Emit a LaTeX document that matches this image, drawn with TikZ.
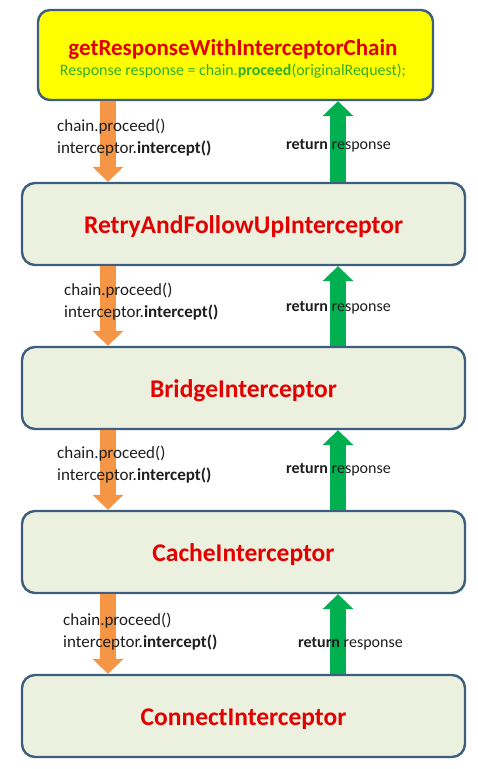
\documentclass[tikz,border=0pt]{standalone}
\usepackage{fontspec}
\setmainfont{Carlito}
\usepackage{tikz}
\usetikzlibrary{arrows.meta, positioning, calc}
\definecolor{myframe}{RGB}{62,94,128}
\definecolor{myfill}{RGB}{235,241,222}
\definecolor{myyellow}{RGB}{255,255,0}
\definecolor{myred}{RGB}{226,0,0}
\definecolor{mygreentxt}{RGB}{45,175,40}
\definecolor{myorange}{RGB}{245,150,70}
\definecolor{mygreen}{RGB}{0,176,80}
\definecolor{mydark}{RGB}{30,30,30}
\tikzset{
  box/.style={rectangle, draw=myframe, fill=myfill, line width=2.4pt,
    rounded corners=13pt, minimum width=443pt, minimum height=82pt,
    inner sep=0pt, text height=18pt, text depth=0pt,
    font=\fontsize{25.5}{30}\selectfont\bfseries, text=myred},
  topbox/.style={box, fill=myyellow, rounded corners=12pt,
    minimum width=395pt, minimum height=90pt},
  callarrow/.style={line width=16pt, color=myorange,
    -{Triangle[width=31pt, length=15pt, line width=0pt]}},
  retarrow/.style={line width=16pt, color=mygreen,
    -{Triangle[width=31pt, length=15pt, line width=0pt]}},
  calltext/.style={anchor=base west, inner sep=0pt, align=left,
    font=\fontsize{17}{21.5}\selectfont, text=mydark},
  rettext/.style={anchor=base west, inner sep=0pt,
    font=\fontsize{16}{19}\selectfont, text=mydark}
}

\begin{document}
\begin{tikzpicture}[x=1pt, y=-1pt]
  \useasboundingbox (0,0) rectangle (478,769);

  % Boxes
  \node[topbox] (chain) at (235.5,55) {};
  \node[box] (retry) at (243.5,224) {RetryAndFollowUpInterceptor};
  \node[box] (bridge) at (243.5,388) {BridgeInterceptor};
  \node[box] (cache) at (243.5,552) {CacheInterceptor};
  \node[box] (connect) at (243.5,716) {ConnectInterceptor};

  % Title of the top box
  \node[font=\fontsize{23}{28}\selectfont\bfseries, text=myred,
    anchor=base, inner sep=0pt] (chaintitle) at (233,55)
    {getResponseWithInterceptorChain};
  \node[font=\fontsize{15.9}{18}\selectfont, text=mygreentxt,
    anchor=base, inner sep=0pt, below=8.5pt of chaintitle.base] (chaincode)
    {Response response = chain.\textbf{proceed}(originalRequest);};

  % Calls going down, responses going up
  \draw[callarrow] (chain.south -| 108,0) -- (retry.north -| 108,0);
  \draw[callarrow] (retry.south -| 108,0) -- (bridge.north -| 108,0);
  \draw[callarrow] (bridge.south -| 108,0) -- (cache.north -| 108,0);
  \draw[callarrow] (cache.south -| 108,0) -- (connect.north -| 108,0);

  \draw[retarrow] (retry.north -| 338,0) -- (chain.south -| 338,0);
  \draw[retarrow] (bridge.north -| 338,0) -- (retry.south -| 338,0);
  \draw[retarrow] (cache.north -| 338,0) -- (bridge.south -| 338,0);
  \draw[retarrow] (connect.north -| 338,0) -- (cache.south -| 338,0);

  % Labels
  \node[calltext] (call1) at (57,153) {chain.proceed()\\interceptor.\textbf{intercept()}};
  \node[calltext] (call2) at (64,317) {chain.proceed()\\interceptor.\textbf{intercept()}};
  \node[calltext] (call3) at (57,480) {chain.proceed()\\interceptor.\textbf{intercept()}};
  \node[calltext] (call4) at (63,647) {chain.proceed()\\interceptor.\textbf{intercept()}};

  \node[rettext] (ret1) at (286,149) {\textbf{return} response};
  \node[rettext] (ret2) at (286,311) {\textbf{return} response};
  \node[rettext] (ret3) at (286,473) {\textbf{return} response};
  \node[rettext] (ret4) at (298,647) {\textbf{return} response};
\end{tikzpicture}
\end{document}
